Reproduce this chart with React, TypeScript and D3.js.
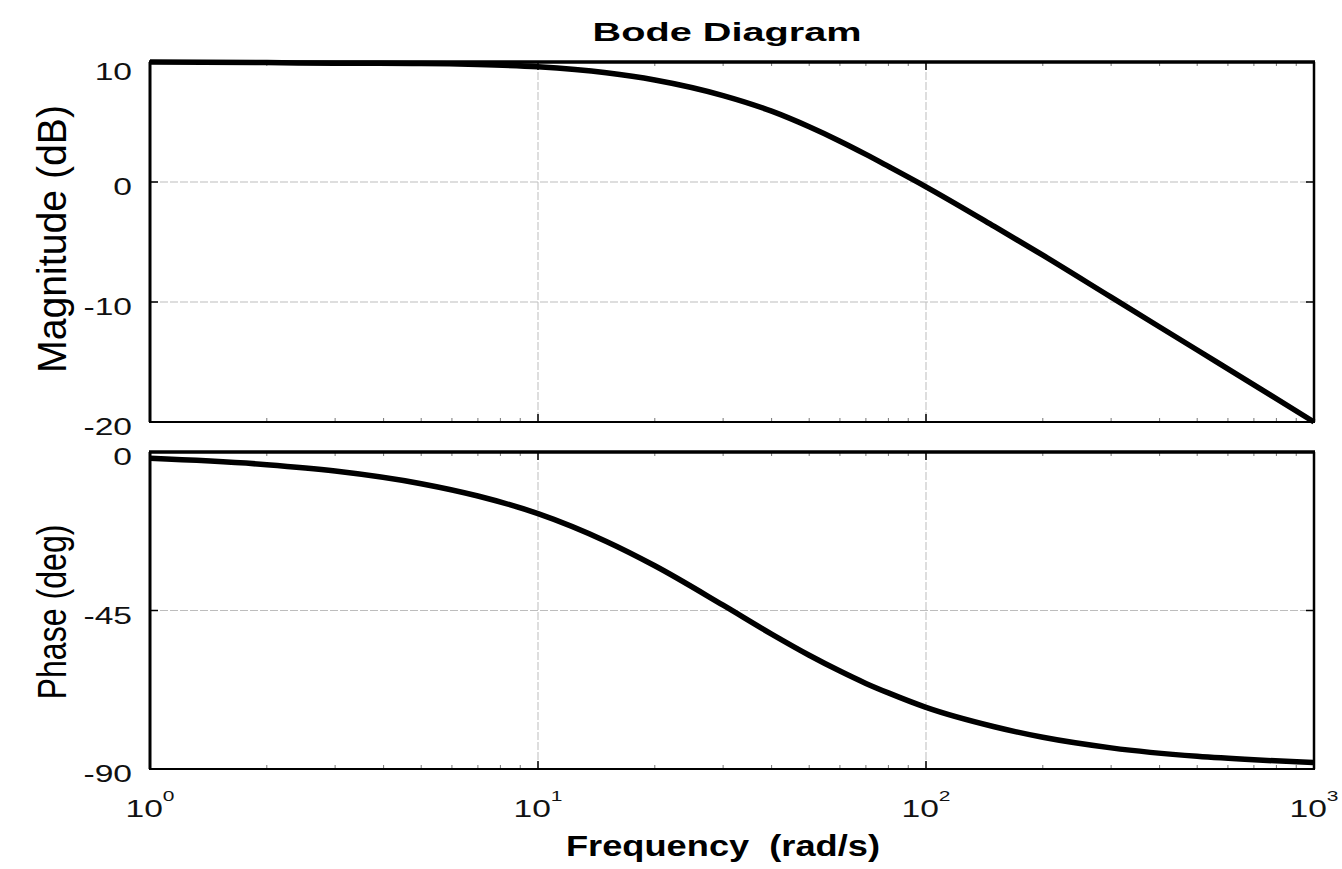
import React from "react";
import * as d3 from "d3";

// values
const freqs = [1, 2, 3, 5, 7, 10, 15, 20, 30, 40, 50, 60, 70, 80, 100, 150, 200, 300, 500, 700, 1000];
const magDb = [10.0, 9.95, 9.9, 9.88, 9.8, 9.6, 9.1, 8.5, 7.2, 5.9, 4.6, 3.4, 2.3, 1.3, -0.4, -3.7, -6.1, -9.6, -14.0, -16.9, -20.0];
const phaseDeg = [-1.8, -3.6, -5.4, -9, -12.5, -17.5, -25.4, -32.3, -43.5, -51.7, -57.7, -62.2, -65.7, -68.4, -72.5, -78, -81, -84, -86.4, -87.4, -88.2];

const magTicks = [10, 0, -10, -20];
const phaseTicks = [0, -45, -90];
const decadeTicks = [1, 10, 100, 1000];
const decadeExp = ["0", "1", "2", "3"];

const width = 1342;
const height = 869;
const left = 150;
const right = 1314;
const font = "'Liberation Sans', Arial, sans-serif";

function Panel({ y, values, ticks, showXLabels }: any) {
  const [y0, y1] = y.range();
  const x = d3.scaleLog().domain([1, 1000]).range([left, right]);
  const line = d3.line<number>()
    .x((_, i) => x(freqs[i]))
    .y((d) => y(d))
    .curve(d3.curveMonotoneX);

  const minor: number[] = [];
  [1, 10, 100].forEach((dec) => {
    for (let k = 2; k <= 9; k++) minor.push(dec * k);
  });

  const top = Math.min(y0, y1);
  const bottom = Math.max(y0, y1);

  return (
    <g>
      {/* grid */}
      {ticks.map((t: number) => (
        <line key={"gy" + t} x1={left} x2={right} y1={y(t)} y2={y(t)} stroke="#bdbdbd" strokeWidth={1} strokeDasharray="8,2" />
      ))}
      {[10, 100].map((f) => (
        <line key={"gx" + f} x1={x(f)} x2={x(f)} y1={top} y2={bottom} stroke="#bdbdbd" strokeWidth={1} strokeDasharray="8,2" />
      ))}
      {/* minor ticks */}
      {minor.map((f) => (
        <g key={"m" + f}>
          <line x1={x(f)} x2={x(f)} y1={bottom} y2={bottom - 4} stroke="#777" strokeWidth={1} />
          <line x1={x(f)} x2={x(f)} y1={top} y2={top + 4} stroke="#777" strokeWidth={1} />
        </g>
      ))}
      {decadeTicks.map((f) => (
        <g key={"M" + f}>
          <line x1={x(f)} x2={x(f)} y1={bottom} y2={bottom - 8} stroke="#000" strokeWidth={1.5} />
          <line x1={x(f)} x2={x(f)} y1={top} y2={top + 8} stroke="#000" strokeWidth={1.5} />
        </g>
      ))}
      {ticks.map((t: number) => (
        <g key={"yt" + t}>
          <line x1={left} x2={left + 8} y1={y(t)} y2={y(t)} stroke="#000" strokeWidth={1.5} />
          <line x1={right} x2={right - 8} y1={y(t)} y2={y(t)} stroke="#000" strokeWidth={1.5} />
        </g>
      ))}
      {/* curve */}
      <path d={line(values) || ""} fill="none" stroke="#000" strokeWidth={5.5} strokeLinejoin="round" />
      {/* frame */}
      <line x1={left - 1} x2={right + 1} y1={top} y2={top} stroke="#000" strokeWidth={3.5} />
      <line x1={left - 1} x2={right + 1} y1={bottom} y2={bottom} stroke="#000" strokeWidth={2} />
      <line x1={left} x2={left} y1={top} y2={bottom} stroke="#000" strokeWidth={3} />
      <line x1={right} x2={right} y1={top} y2={bottom} stroke="#000" strokeWidth={2.5} />
      {/* y tick labels */}
      {ticks.map((t: number, i: number) => (
        <g key={"yl" + t} transform={`translate(${left - 18},${y(t) + (i === 0 && t === 10 ? 18 : 13)}) scale(1.4,1)`}>
          <text x={0} y={0} textAnchor="end" fontSize={24} fontFamily={font} fill="#111">
            {t}
          </text>
        </g>
      ))}
      {showXLabels &&
        decadeTicks.map((f, i) => (
          <g key={"xl" + f} transform={`translate(${x(f)},${bottom + 48}) scale(1.4,1)`}>
            <text x={0} y={0} textAnchor="middle" fontSize={24} fontFamily={font} fill="#111">
              10
              <tspan dy={-16} fontSize={15}>{decadeExp[i]}</tspan>
            </text>
          </g>
        ))}
    </g>
  );
}

export default function App() {
  const yMag = d3.scaleLinear().domain([-20, 10]).range([422, 62]);
  const yPhase = d3.scaleLinear().domain([-90, 0]).range([769, 452]);

  return (
    <svg width={width} height={height} style={{ position: "absolute", left: 0, top: 0, background: "#fff" }}>
      <rect x={0} y={0} width={width} height={height} fill="#fff" />
      <text x={727} y={41} textAnchor="middle" fontSize={26} fontWeight="bold" fontFamily={font}
        textLength={269} lengthAdjust="spacingAndGlyphs">
        Bode Diagram
      </text>
      <Panel y={yMag} values={magDb} ticks={magTicks} showXLabels={false} />
      <Panel y={yPhase} values={phaseDeg} ticks={phaseTicks} showXLabels={true} />
      <text x={723} y={856} textAnchor="middle" fontSize={30} fontWeight="bold" fontFamily={font}
        textLength={314} lengthAdjust="spacingAndGlyphs" style={{ whiteSpace: "pre" }}>
        {"Frequency  (rad/s)"}
      </text>
      <text transform="translate(66,239) rotate(-90)" textAnchor="middle" fontSize={40} fontFamily={font}
        textLength={268} lengthAdjust="spacingAndGlyphs">
        Magnitude (dB)
      </text>
      <text transform="translate(66,612) rotate(-90)" textAnchor="middle" fontSize={40} fontFamily={font}
        textLength={175} lengthAdjust="spacingAndGlyphs">
        Phase (deg)
      </text>
    </svg>
  );
}
